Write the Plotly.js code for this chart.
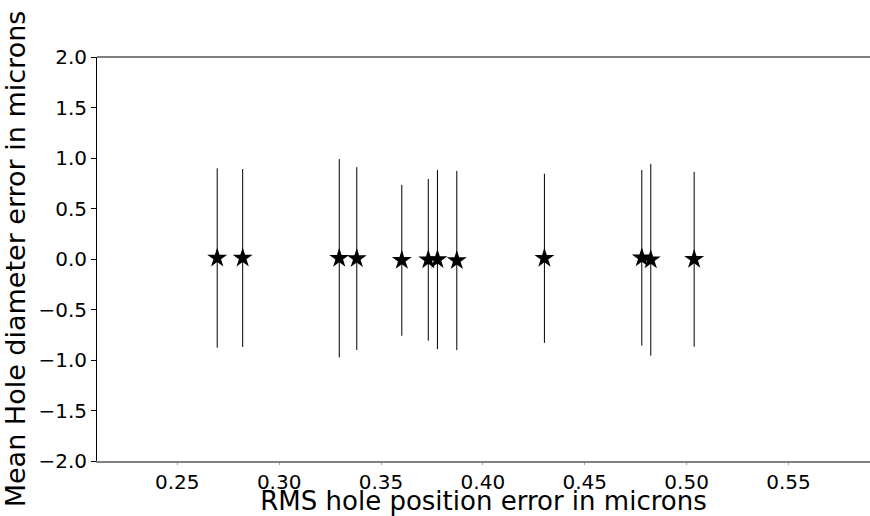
<!DOCTYPE html>
<html>
<head>
<meta charset="utf-8">
<script src="https://cdn.plot.ly/plotly-3.0.1.min.js"></script>
<style>html,body{margin:0;padding:0;background:#fff;}#chart{width:870px;height:516px;}</style>
</head>
<body>
<div id="chart"></div>
<script>
const rmsPosition = [0.2696, 0.2821, 0.3295, 0.3381, 0.3602, 0.3732, 0.3777, 0.3872, 0.4302, 0.4780, 0.4824, 0.5037];
const meanDiameter = [0.010, 0.010, 0.007, 0.004, -0.013, -0.008, -0.005, -0.015, 0.007, 0.012, -0.008, -0.003];
const diameterError = [0.888, 0.881, 0.982, 0.905, 0.747, 0.801, 0.887, 0.887, 0.837, 0.870, 0.950, 0.866];
const xTickVals = [0.25, 0.30, 0.35, 0.40, 0.45, 0.50, 0.55];
const yTickVals = [-2.0, -1.5, -1.0, -0.5, 0.0, 0.5, 1.0, 1.5, 2.0];

const trace = {
  x: rmsPosition,
  y: meanDiameter,
  type: 'scatter',
  mode: 'markers',
  marker: {symbol: 'star', size: 15, color: '#000000', line: {width: 0}},
  error_y: {type: 'data', array: diameterError, visible: true, color: '#000000', thickness: 1, width: 0}
};

const font = {family: 'DejaVu Sans, sans-serif', color: '#000000'};
const layout = {
  width: 870, height: 516,
  margin: {l: 97, r: 0, t: 57, b: 55},
  paper_bgcolor: '#ffffff', plot_bgcolor: '#ffffff',
  showlegend: false,
  font: font,
  xaxis: {
    range: [0.2106, 0.59],
    tickvals: xTickVals,
    ticktext: xTickVals.map(v => v.toFixed(2)),
    tickfont: {family: 'DejaVu Sans', size: 20, color: '#000'},
    showgrid: false, zeroline: false,
    showline: true, linecolor: '#808080', linewidth: 1.5,
    ticks: 'outside', ticklen: 2, tickcolor: '#a0a0a0',
    title: {text: 'RMS hole position error in microns', font: {family: 'DejaVu Sans', size: 26, color: '#000'}, standoff: 2}
  },
  yaxis: {
    range: [-2.0, 2.0],
    tickvals: yTickVals,
    ticktext: yTickVals.map(v => (v < 0 ? '\u2212' : '') + Math.abs(v).toFixed(1)),
    tickfont: {family: 'DejaVu Sans', size: 20, color: '#000'},
    showgrid: false, zeroline: false,
    showline: true, linecolor: '#000000', linewidth: 1,
    ticks: 'outside', ticklen: 5, tickcolor: '#000000',
    title: {text: 'Mean Hole diameter error in microns', font: {family: 'DejaVu Sans', size: 27, color: '#000'}, standoff: 6}
  },
  shapes: [
    {type: 'line', xref: 'paper', yref: 'paper', x0: 0, x1: 1, y0: 1, y1: 1, line: {color: '#000000', width: 1}}
  ]
};

Plotly.newPlot('chart', [trace], layout, {displayModeBar: false, staticPlot: true});
</script>
</body>
</html>
